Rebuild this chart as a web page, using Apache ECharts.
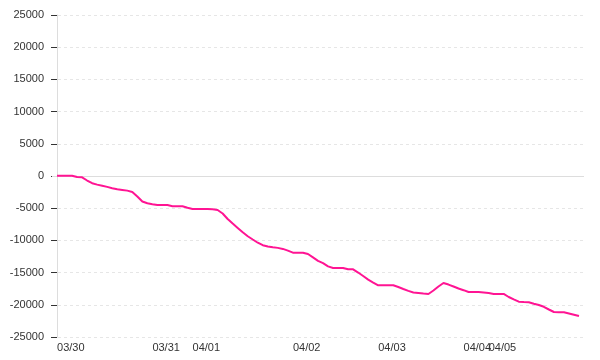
<!DOCTYPE html>
<html>
<head>
<meta charset="utf-8">
<script src="https://cdn.jsdelivr.net/npm/echarts@6/dist/echarts.min.js"></script>
<style>html,body{margin:0;padding:0;background:#fff}#c{width:600px;height:360px}</style>
</head>
<body>
<div id="c"></div>
<script>
// Series values (one point per sample, evenly spaced along x)
const values = [
  50, 50, 50, 50, -155, -200, -700, -1120, -1340, -1500,
  -1690, -1890, -2070, -2160, -2270, -2480, -3180, -3960, -4240, -4390,
  -4500, -4500, -4500, -4700, -4700, -4700, -4920, -5120, -5120, -5120,
  -5120, -5170, -5280, -5820, -6680, -7390, -8060, -8730, -9350, -9860,
  -10360, -10750, -10950, -11070, -11160, -11320, -11580, -11910, -11910, -11910,
  -12110, -12640, -13170, -13520, -14040, -14290, -14290, -14290, -14490, -14490,
  -14990, -15530, -16090, -16540, -16970, -16970, -16970, -16970, -17240, -17550,
  -17830, -18090, -18170, -18250, -18320, -17780, -17160, -16620, -16860, -17160,
  -17470, -17730, -18010, -18010, -18010, -18090, -18170, -18320, -18320, -18320,
  -18790, -19170, -19520, -19570, -19600, -19830, -20030, -20310, -20730, -21120,
  -21170, -21170, -21340, -21540, -21740
];
// Index of the first sample of each day, and its label
const tickIndex = [0, 19, 27, 47, 64, 81, 86];
const tickLabels = ['03/30', '03/31', '04/01', '04/02', '04/03', '04/04', '04/05'];
// Y axis range
const yMin = -25000, yMax = 25000, yStep = 5000;

const seriesData = values.map((v, i) => [i, v]);
const font = 'Liberation Sans, Arial, sans-serif';

// Split ticks into two alternating groups so overlapping labels are both drawn
const groupA = tickIndex.filter((_, k) => k % 2 === 0);
const groupB = tickIndex.filter((_, k) => k % 2 === 1);

function makeXAxis(vals, show) {
  return {
    type: 'value',
    position: 'bottom',
    min: -1,
    max: values.length,
    axisLine: {show: false},
    axisTick: {show: false},
    splitLine: {show: false},
    axisLabel: {
      show: show,
      customValues: vals,
      hideOverlap: false,
      showMinLabel: true,
      showMaxLabel: true,
      align: 'left',
      margin: 5,
      color: '#333',
      fontFamily: font,
      fontSize: 11,
      formatter: v => tickLabels[tickIndex.indexOf(v)] || ''
    }
  };
}

const chart = echarts.init(document.getElementById('c'), null, {renderer: 'canvas'});
chart.setOption({
  animation: false,
  grid: {left: 52, right: 16, top: 15, bottom: 23, containLabel: false},
  xAxis: [makeXAxis(groupA, true), makeXAxis(groupB, true)],
  yAxis: {
    type: 'value',
    min: yMin,
    max: yMax,
    interval: yStep,
    axisLine: {show: true, lineStyle: {color: '#dddddd', width: 1}},
    axisTick: {show: true, length: 6, lineStyle: {color: '#333', width: 1}},
    axisLabel: {color: '#333', fontFamily: font, fontSize: 11, margin: 8,
      formatter: v => String(v)},
    splitLine: {show: true, lineStyle: {color: '#e6e6e6', type: [3, 3], width: 1}}
  },
  series: [{
    type: 'line',
    xAxisIndex: 0,
    data: seriesData,
    showSymbol: false,
    symbol: 'none',
    lineStyle: {color: '#ff1493', width: 2},
    itemStyle: {color: '#ff1493'},
    markLine: {
      silent: true,
      symbol: 'none',
      label: {show: false},
      lineStyle: {color: '#dddddd', type: 'solid', width: 1},
      data: [{yAxis: 0}]
    },
    z: 5
  }]
});
</script>
</body>
</html>
